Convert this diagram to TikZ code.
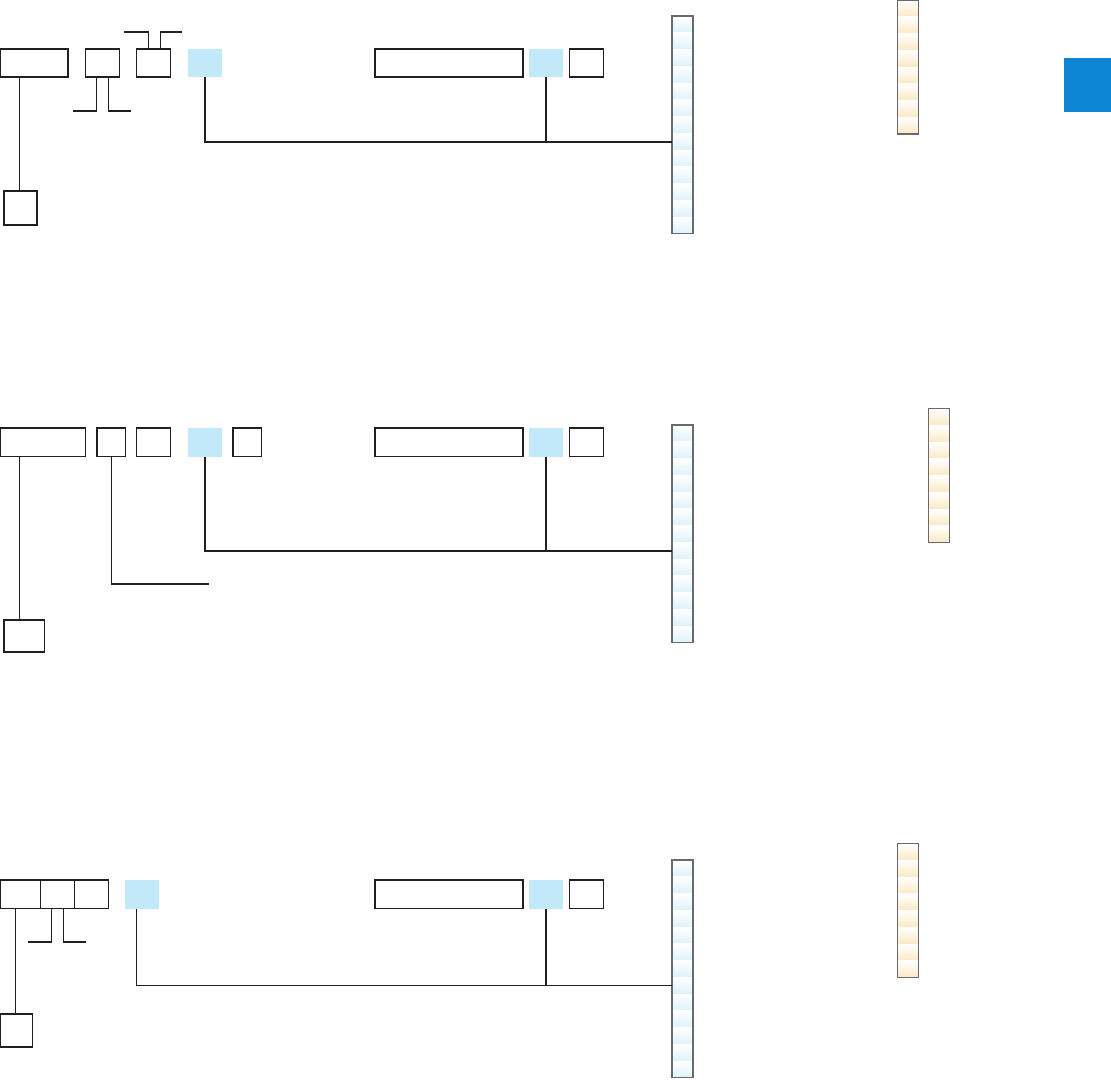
\documentclass[tikz,border=0pt]{standalone}
\definecolor{hlblue}{HTML}{C2E9F9}
\definecolor{sqblue}{HTML}{0E86D5}
\definecolor{cellblue}{HTML}{DDF2FA}
\definecolor{cellorange}{HTML}{FCE8C4}
\definecolor{stackedge}{HTML}{6A6A6A}
\definecolor{ink}{HTML}{231F20}
\tikzset{
  box/.style={draw=ink, line width=1.1pt, inner sep=0pt, outer sep=0pt, anchor=north west},
  hl/.style={fill=hlblue, inner sep=0pt, outer sep=0pt, anchor=north west},
  wire/.style={draw=ink, line width=1.1pt},
  stackbox/.style={draw=stackedge, line width=1.1pt, inner sep=0pt, outer sep=0pt, anchor=north west, minimum width=21pt},
}
% #1 name, #2 x, #3 y, #4 cells, #5 colour
\newcommand{\cellstack}[5]{%
  \foreach \i in {1,...,#4} {
    \shade[top color=white, bottom color=#5]
      (#2,{#3+(\i-1)*16.75}) rectangle ({#2+21},{#3+\i*16.75});
  }
  \node[stackbox, minimum height={#4*16.75pt}] (#1) at (#2,#3) {};
}
\begin{document}
\begin{tikzpicture}[x=1pt,y=-1pt]
\useasboundingbox (0,0) rectangle (1111,1079);

% ---------------- panel 1 ----------------
\node[box, minimum width=68pt, minimum height=28pt] (a1) at (0,49) {};
\node[box, minimum width=34pt, minimum height=28pt] (b1) at (85.5,49) {};
\node[box, minimum width=34pt, minimum height=28pt] (c1) at (136.5,49) {};
\node[hl, minimum width=34pt, minimum height=28pt] (h1) at (188,49) {};
\node[box, minimum width=148pt, minimum height=28pt] (l1) at (375,49) {};
\node[hl, minimum width=34pt, minimum height=28pt] (g1) at (529,49) {};
\node[box, minimum width=34pt, minimum height=28pt] (r1) at (569.5,49) {};
\node[box, minimum width=33pt, minimum height=34pt] (m1) at (4,191) {};
\cellstack{s1}{672}{16}{13}{cellblue}
\cellstack{o1}{897.5}{0}{8}{cellorange}
\node[fill=sqblue, inner sep=0pt, anchor=north west, minimum width=47pt, minimum height=54pt] (q1) at (1064,58) {};

\coordinate (j1) at (546.5,142);
\coordinate (e1a) at (73,111);
\coordinate (e1b) at (131,111);
\coordinate (e1c) at (124,32);
\coordinate (e1d) at (182,32);
\draw[wire] ([xshift=19.5pt]a1.south west) -- ([xshift=19.5pt]a1.south west |- m1.north);
\draw[wire] ([xshift=11pt]b1.south west) |- (e1a);
\draw[wire] ([xshift=23pt]b1.south west) |- (e1b);
\draw[wire] ([xshift=12pt]c1.north west) |- (e1c);
\draw[wire] ([xshift=24pt]c1.north west) |- (e1d);
\draw[wire] (h1.south) |- (j1 -| s1.west);
\draw[wire] (g1.south) -- (g1.south |- j1);

% ---------------- panel 2 ----------------
\node[box, minimum width=85.5pt, minimum height=28.5pt] (a2) at (0,428) {};
\node[box, minimum width=28.5pt, minimum height=28.5pt] (b2) at (97,428) {};
\node[box, minimum width=34pt, minimum height=28.5pt] (c2) at (136.5,428) {};
\node[hl, minimum width=34pt, minimum height=28.5pt] (h2) at (188,428) {};
\node[box, minimum width=28.5pt, minimum height=28.5pt] (d2) at (233,428) {};
\node[box, minimum width=148pt, minimum height=28.5pt] (l2) at (375,428) {};
\node[hl, minimum width=34pt, minimum height=28.5pt] (g2) at (529,428) {};
\node[box, minimum width=34pt, minimum height=28.5pt] (r2) at (569.5,428) {};
\node[box, minimum width=40.5pt, minimum height=32pt] (m2) at (4,620) {};
\cellstack{s2}{672}{425}{13}{cellblue}
\cellstack{o2}{928.5}{408.5}{8}{cellorange}

\coordinate (j2) at (546.5,551);
\coordinate (e2a) at (209,584);
\draw[wire] ([xshift=19.5pt]a2.south west) -- ([xshift=19.5pt]a2.south west |- m2.north);
\draw[wire] (b2.south) |- (e2a);
\draw[wire] (h2.south) |- (j2 -| s2.west);
\draw[wire] (g2.south) -- (g2.south |- j2);

% ---------------- panel 3 ----------------
\node[box, minimum width=40.5pt, minimum height=28.5pt] (a3) at (0,880) {};
\node[box, minimum width=34pt, minimum height=28.5pt] (b3) at (40.5,880) {};
\node[box, minimum width=34pt, minimum height=28.5pt] (c3) at (74.5,880) {};
\node[hl, minimum width=34pt, minimum height=28.5pt] (h3) at (125,880) {};
\node[box, minimum width=148pt, minimum height=28.5pt] (l3) at (375,880) {};
\node[hl, minimum width=34pt, minimum height=28.5pt] (g3) at (529,880) {};
\node[box, minimum width=34pt, minimum height=28.5pt] (r3) at (569.5,880) {};
\node[box, minimum width=32.5pt, minimum height=33pt] (m3) at (0,1014) {};
\cellstack{s3}{672}{860}{13}{cellblue}
\cellstack{o3}{897.5}{843.5}{8}{cellorange}

\coordinate (j3) at (546.5,985.5);
\coordinate (e3a) at (28,942);
\coordinate (e3b) at (86,942);
\draw[wire] ([xshift=15.5pt]a3.south west) -- ([xshift=15.5pt]a3.south west |- m3.north);
\draw[wire] ([xshift=11pt]b3.south west) |- (e3a);
\draw[wire] ([xshift=23pt]b3.south west) |- (e3b);
\draw[wire] ([xshift=11.5pt]h3.south west) |- (j3 -| s3.west);
\draw[wire] (g3.south) -- (g3.south |- j3);
\end{tikzpicture}
\end{document}
